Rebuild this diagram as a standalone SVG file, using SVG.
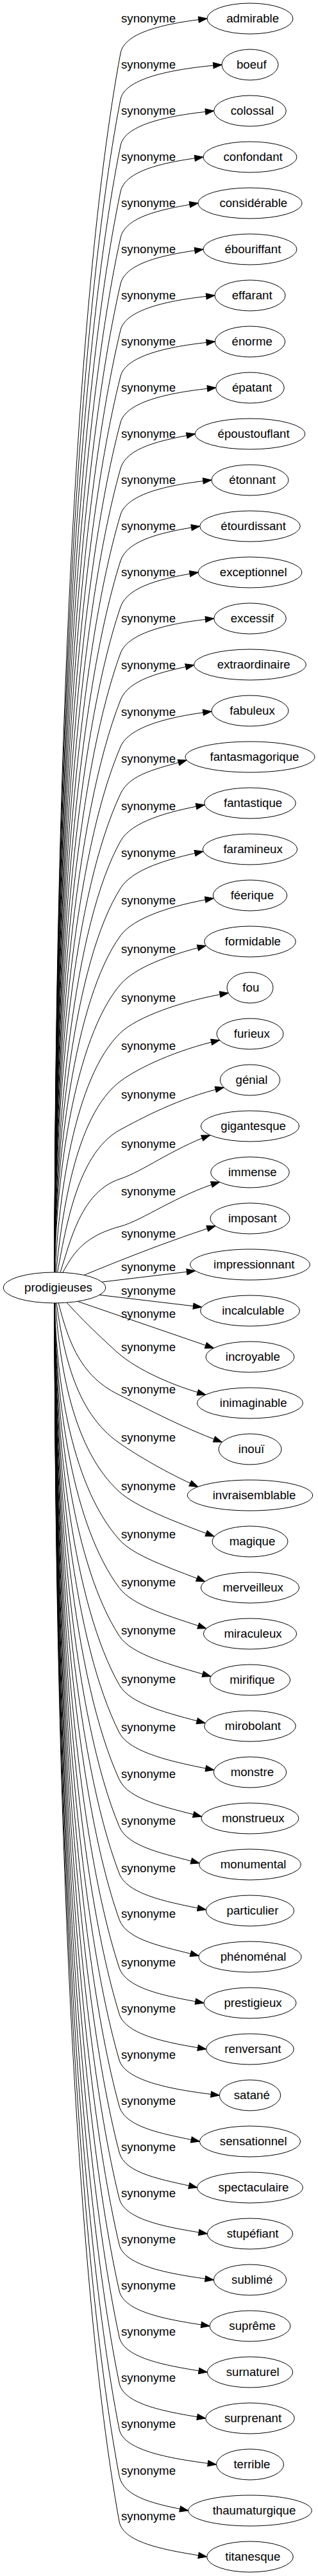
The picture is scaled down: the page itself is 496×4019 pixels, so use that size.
<svg xmlns="http://www.w3.org/2000/svg" width="496" height="4019" viewBox="0 0 496 4019">
<style>
text{font-family:"Liberation Sans",Arial,sans-serif;font-size:18.67px;fill:#000}
.n text{text-anchor:middle}
.n ellipse{fill:#fff;stroke:#000;stroke-width:1}
#edges path{fill:none;stroke:#000;stroke-width:1;marker-end:url(#a)}
</style>
<defs><marker id="a" markerWidth="14" markerHeight="10" refX="13.3" refY="4.67" orient="auto" markerUnits="userSpaceOnUse" overflow="visible"><path d="M0,0 L13.3,4.67 L0,9.33 z" fill="#000" stroke="#000" stroke-width="1"/></marker></defs>
<rect width="496" height="4019" fill="#fff"/>
<g id="edges">
<path d="M85,2009 C85,1238.6 116,468.2 188,83 C194.4,48.6 262.7,36.2 323,29"/>
<path d="M85,2009 C85,1267.4 116,525.8 188,155 C194.7,120.6 275.1,106.8 346,101"/>
<path d="M85,2009 C85,1296.2 116,583.4 188,227 C194.9,192.7 268.4,179.4 333.7,173"/>
<path d="M85,2009 C85,1325 116,641 188,299 C195.2,264.8 259.5,252.8 317,245"/>
<path d="M85,2009 C85,1353.8 116,698.6 188,371 C195.5,336.8 255.3,326 309,317"/>
<path d="M85,2009 C85,1382.6 116,756.2 188,443 C195.8,408.9 259.5,396.8 317,389"/>
<path d="M85,2009 C85,1411.4 116,813.8 188,515 C196.2,481 269.2,467.4 335,461"/>
<path d="M85,2009 C85,1440.2 116,871.4 188,587 C196.6,553.1 269.3,539.4 335.3,533"/>
<path d="M85,2009 C85,1469 116,929 188,659 C197,625.2 270.1,611.3 336.7,605"/>
<path d="M85,2009 C85,1497.8 116,986.6 188,731 C197.5,697.3 252.9,686.8 304.3,677"/>
<path d="M85,2009 C85,1526.6 116,1044.2 188,803 C198,769.5 266.5,755.7 330,749"/>
<path d="M85,2009 C85,1555.4 116,1101.8 188,875 C198.6,841.6 256.7,829.5 311.7,821"/>
<path d="M85,2009 C85,1584.2 116,1159.4 188,947 C199.2,913.9 255.4,901.9 309.2,893"/>
<path d="M85,2009 C85,1613 116,1217 188,1019 C200,986.1 268.4,971.4 333.7,965"/>
<path d="M85,2009 C85,1642.2 116,1275.4 188,1092 C200.8,1059.4 252.3,1048.5 302.7,1037.5"/>
<path d="M85,2009 C85,1671.4 116,1333.8 188,1165 C201.7,1132.8 266.6,1117.8 330,1110"/>
<path d="M85,2009 C85,1700.7 116,1392.4 188,1238.3 C202.8,1206.6 246.5,1199.3 291.2,1186"/>
<path d="M85,2009 C85,1751.9 116,1440.8 188,1312.3 C205.1,1281.8 261.1,1266.5 319.1,1255.7"/>
<path d="M85,2009 C85,1781.3 116,1499.6 188,1385.7 C206.7,1356.1 260.3,1340.4 317,1328.4"/>
<path d="M85,2009 C85,1810.9 116,1558.8 188,1459.7 C208.6,1431.4 268.8,1412.4 333.3,1401.4"/>
<path d="M85,2009 C85,1841.3 116,1619.6 188,1535.7 C210.8,1509.2 263.2,1490.2 321.3,1475.4"/>
<path d="M85,2009 C89.2,1871.5 116,1680 188,1611.3 C213.3,1587.1 281.6,1561.8 356.2,1549.2"/>
<path d="M85,2009 C94.9,1901.7 116,1740.4 188,1686.7 C216.1,1665.8 274.7,1638.3 342.6,1622.9"/>
<path d="M85,2009 C100.5,1931.9 116,1800.8 188,1762.3 C218.9,1745.8 278.6,1713 349.2,1696.7"/>
<path d="M85,2009 C106.3,1962.6 116,1862.2 188,1839 C221.3,1828.3 268.6,1792.6 327.7,1771"/>
<path d="M85,2009 C107.8,1970.7 116,1932.4 188,1913.3 C221.8,1904.3 276,1864.4 342.6,1844.2"/>
<path d="M85,2009 C140,1985 250,1940 336,1912.8"/>
<path d="M85,2009 L304.6,1982.7"/>
<path d="M85,2012 L314.7,2039.3"/>
<path d="M85,2018 L333.4,2103.3"/>
<path d="M85,2009 C110,2042 150,2080 183,2110 C215,2138 270,2162 321,2176"/>
<path d="M85,2009 C102.5,2075.9 116,2142.8 186,2176.3 C217.6,2191.4 278.6,2225.3 346.4,2250"/>
<path d="M85,2009 C96.8,2105.9 116,2202.8 186,2251.3 C214.8,2271.2 258.4,2297 308.8,2319.7"/>
<path d="M85,2009 C91.1,2136.3 116,2263.6 186,2327.3 C211.9,2350.9 271.6,2373.8 334,2397"/>
<path d="M85,2009 C85.5,2166.2 116,2323.4 186,2402 C209.3,2428.1 263.7,2445.3 319.6,2467.5"/>
<path d="M85,2009 C85,2196.3 116,2383.6 186,2477.3 C206.9,2505.3 263.9,2521.2 321.8,2540.7"/>
<path d="M85,2009 C85,2226.3 116,2443.6 186,2552.3 C204.9,2581.7 267.1,2597.6 329,2615.5"/>
<path d="M85,2009 C85,2256.9 116,2504.8 186,2628.7 C203.2,2659.2 261.9,2672.7 320.1,2688.4"/>
<path d="M85,2009 C85,2286.6 116,2564.2 186,2703 C201.8,2734.2 268.5,2749.1 333.9,2761.5"/>
<path d="M85,2009 C85,2315.9 116,2622.8 186,2776.3 C200.5,2808.1 258.6,2819.5 314.5,2834.2"/>
<path d="M85,2009 C85,2345.3 116,2681.6 186,2849.7 C199.5,2882 256.7,2892.3 311.1,2906.9"/>
<path d="M85,2009 C85,2374.6 116,2740.2 186,2923 C198.5,2955.7 261.6,2967.8 321.4,2979.5"/>
<path d="M85,2009 C85,2403.3 116,2797.6 186,2994.7 C197.7,3027.7 256.1,3037.3 310.2,3051.4"/>
<path d="M85,2009 C85,2433.4 116,2857.8 186,3070 C197,3103.2 259.5,3114.6 318,3125"/>
<path d="M85,2009 C85,2462.2 116,2915.4 186,3142 C196.3,3175.4 261.4,3187.1 321.7,3197"/>
<path d="M85,2009 C85,2491 116,2973 186,3214 C195.8,3247.6 272.5,3260.9 342.3,3269"/>
<path d="M85,2009 C85,2519.8 116,3030.6 186,3286 C195.3,3319.8 256.1,3329.5 311.3,3341"/>
<path d="M85,2009 C85,2548.6 116,3088.2 186,3358 C194.8,3391.9 254.3,3400.7 307.7,3413"/>
<path d="M85,2009 C85,2577.4 116,3145.8 186,3430 C194.4,3464 262.3,3475.3 323.3,3485"/>
<path d="M85,2009 C85,2606.2 116,3203.4 186,3502 C194,3536.1 267.6,3548.3 333.3,3557"/>
<path d="M85,2009 C85,2635 116,3261 186,3574 C193.6,3608.2 264.2,3619.7 327,3629"/>
<path d="M85,2009 C85,2663.8 116,3318.6 186,3646 C193.3,3680.2 262.3,3691.3 323.3,3701"/>
<path d="M85,2009 C85,2692.6 116,3376.2 186,3718 C193,3752.3 260.9,3763 320.7,3773"/>
<path d="M85,2009 C85,2721.4 116,3433.8 186,3790 C192.7,3824.3 269.8,3836.6 337.5,3845"/>
<path d="M85,2009 C85,2750.6 116,3492.2 186,3863 C192.5,3897.4 246.1,3907.5 293.7,3917"/>
<path d="M85,2009 C85,2779 116,3549 186,3934 C192.3,3968.4 262,3979.2 322.7,3989"/>
<g id="labels">
<text x="189" y="34.6">synonyme</text>
<text x="189" y="106.6">synonyme</text>
<text x="189" y="178.6">synonyme</text>
<text x="189" y="250.6">synonyme</text>
<text x="189" y="322.6">synonyme</text>
<text x="189" y="394.6">synonyme</text>
<text x="189" y="466.6">synonyme</text>
<text x="189" y="538.6">synonyme</text>
<text x="189" y="610.6">synonyme</text>
<text x="189" y="682.6">synonyme</text>
<text x="189" y="754.6">synonyme</text>
<text x="189" y="826.6">synonyme</text>
<text x="189" y="898.6">synonyme</text>
<text x="189" y="970.6">synonyme</text>
<text x="189" y="1043.6">synonyme</text>
<text x="189" y="1116.6">synonyme</text>
<text x="189" y="1189.9">synonyme</text>
<text x="189" y="1263.9">synonyme</text>
<text x="189" y="1337.3">synonyme</text>
<text x="189" y="1411.3">synonyme</text>
<text x="189" y="1487.3">synonyme</text>
<text x="189" y="1562.9">synonyme</text>
<text x="189" y="1638.3">synonyme</text>
<text x="189" y="1713.9">synonyme</text>
<text x="189" y="1790.6">synonyme</text>
<text x="189" y="1864.9">synonyme</text>
<text x="189" y="1930.6">synonyme</text>
<text x="189" y="1983.3">synonyme</text>
<text x="189" y="2019.9">synonyme</text>
<text x="189" y="2055.6">synonyme</text>
<text x="189" y="2107.9">synonyme</text>
<text x="189" y="2173.9">synonyme</text>
<text x="189" y="2248.9">synonyme</text>
<text x="189" y="2324.9">synonyme</text>
<text x="189" y="2399.6">synonyme</text>
<text x="189" y="2474.9">synonyme</text>
<text x="189" y="2549.9">synonyme</text>
<text x="189" y="2626.3">synonyme</text>
<text x="189" y="2700.6">synonyme</text>
<text x="189" y="2773.9">synonyme</text>
<text x="189" y="2847.3">synonyme</text>
<text x="189" y="2920.6">synonyme</text>
<text x="189" y="2992.3">synonyme</text>
<text x="189" y="3067.6">synonyme</text>
<text x="189" y="3139.6">synonyme</text>
<text x="189" y="3211.6">synonyme</text>
<text x="189" y="3283.6">synonyme</text>
<text x="189" y="3355.6">synonyme</text>
<text x="189" y="3427.6">synonyme</text>
<text x="189" y="3499.6">synonyme</text>
<text x="189" y="3571.6">synonyme</text>
<text x="189" y="3643.6">synonyme</text>
<text x="189" y="3715.6">synonyme</text>
<text x="189" y="3787.6">synonyme</text>
<text x="189" y="3860.6">synonyme</text>
<text x="189" y="3931.6">synonyme</text>
</g>
</g>
<g id="n-prodigieuses" class="n"><ellipse cx="85" cy="2009" rx="79.7" ry="24"/><text x="91" y="2014.6">prodigieuses</text></g>
<g id="n0" class="n"><ellipse cx="390" cy="29" rx="67" ry="24"/><text x="394.1" y="34.6">admirable</text></g>
<g id="n1" class="n"><ellipse cx="390" cy="101" rx="44" ry="24"/><text x="392.3" y="106.6">boeuf</text></g>
<g id="n2" class="n"><ellipse cx="390" cy="173" rx="56.3" ry="24"/><text x="393.4" y="178.6">colossal</text></g>
<g id="n3" class="n"><ellipse cx="390" cy="245" rx="73" ry="24"/><text x="394.6" y="250.6">confondant</text></g>
<g id="n4" class="n"><ellipse cx="390" cy="317" rx="81" ry="24"/><text x="395.3" y="322.6">considérable</text></g>
<g id="n5" class="n"><ellipse cx="390" cy="389" rx="73" ry="24"/><text x="394.4" y="394.6">ébouriffant</text></g>
<g id="n6" class="n"><ellipse cx="390" cy="461" rx="55" ry="24"/><text x="393.2" y="466.6">effarant</text></g>
<g id="n7" class="n"><ellipse cx="390" cy="533" rx="54.7" ry="24"/><text x="393.2" y="538.6">énorme</text></g>
<g id="n8" class="n"><ellipse cx="390" cy="605" rx="53.3" ry="24"/><text x="393.1" y="610.6">épatant</text></g>
<g id="n9" class="n"><ellipse cx="390" cy="677" rx="85.7" ry="24"/><text x="395.6" y="682.6">époustouflant</text></g>
<g id="n10" class="n"><ellipse cx="390" cy="749" rx="60" ry="24"/><text x="393.6" y="754.6">étonnant</text></g>
<g id="n11" class="n"><ellipse cx="390" cy="821" rx="78.3" ry="24"/><text x="395.1" y="826.6">étourdissant</text></g>
<g id="n12" class="n"><ellipse cx="390" cy="893" rx="80.8" ry="24"/><text x="395.2" y="898.6">exceptionnel</text></g>
<g id="n13" class="n"><ellipse cx="390" cy="965" rx="56.3" ry="24"/><text x="393.4" y="970.6">excessif</text></g>
<g id="n14" class="n"><ellipse cx="390" cy="1037" rx="87.3" ry="24"/><text x="395.7" y="1042.6">extraordinaire</text></g>
<g id="n15" class="n"><ellipse cx="390" cy="1109" rx="60" ry="24"/><text x="393.5" y="1114.6">fabuleux</text></g>
<g id="n16" class="n"><ellipse cx="390" cy="1181" rx="101" ry="24"/><text x="397" y="1186.6">fantasmagorique</text></g>
<g id="n17" class="n"><ellipse cx="390" cy="1253" rx="71.3" ry="24"/><text x="394.6" y="1258.6">fantastique</text></g>
<g id="n18" class="n"><ellipse cx="390" cy="1325" rx="73.7" ry="24"/><text x="394.6" y="1330.6">faramineux</text></g>
<g id="n19" class="n"><ellipse cx="390" cy="1397" rx="57.7" ry="24"/><text x="393.4" y="1402.6">féerique</text></g>
<g id="n20" class="n"><ellipse cx="390" cy="1469" rx="71.3" ry="24"/><text x="394.4" y="1474.6">formidable</text></g>
<g id="n21" class="n"><ellipse cx="390" cy="1541" rx="36" ry="24"/><text x="391.3" y="1546.6">fou</text></g>
<g id="n22" class="n"><ellipse cx="390" cy="1613" rx="52" ry="24"/><text x="392.8" y="1618.6">furieux</text></g>
<g id="n23" class="n"><ellipse cx="390" cy="1685" rx="46.7" ry="24"/><text x="392.5" y="1690.6">génial</text></g>
<g id="n24" class="n"><ellipse cx="390" cy="1757" rx="76.7" ry="24"/><text x="395.1" y="1762.6">gigantesque</text></g>
<g id="n25" class="n"><ellipse cx="390" cy="1829" rx="61.3" ry="24"/><text x="393.8" y="1834.6">immense</text></g>
<g id="n26" class="n"><ellipse cx="390" cy="1901" rx="62" ry="24"/><text x="393.8" y="1906.6">imposant</text></g>
<g id="n27" class="n"><ellipse cx="390" cy="1973" rx="93.3" ry="24"/><text x="396.3" y="1978.6">impressionnant</text></g>
<g id="n28" class="n"><ellipse cx="390" cy="2045" rx="77.5" ry="24"/><text x="394.9" y="2050.6">incalculable</text></g>
<g id="n29" class="n"><ellipse cx="390" cy="2117" rx="69" ry="24"/><text x="394.3" y="2122.6">incroyable</text></g>
<g id="n30" class="n"><ellipse cx="390" cy="2189" rx="82.3" ry="24"/><text x="395.2" y="2194.6">inimaginable</text></g>
<g id="n31" class="n"><ellipse cx="390" cy="2261" rx="49" ry="24"/><text x="392" y="2266.6">inouï</text></g>
<g id="n32" class="n"><ellipse cx="390" cy="2333" rx="97.7" ry="24"/><text x="396.5" y="2338.6">invraisemblable</text></g>
<g id="n33" class="n"><ellipse cx="390" cy="2405" rx="59" ry="24"/><text x="393.6" y="2410.6">magique</text></g>
<g id="n34" class="n"><ellipse cx="390" cy="2477" rx="76.7" ry="24"/><text x="394.7" y="2482.6">merveilleux</text></g>
<g id="n35" class="n"><ellipse cx="390" cy="2549" rx="72.7" ry="24"/><text x="394.5" y="2554.6">miraculeux</text></g>
<g id="n36" class="n"><ellipse cx="390" cy="2621" rx="62.7" ry="24"/><text x="393.5" y="2626.6">mirifique</text></g>
<g id="n37" class="n"><ellipse cx="390" cy="2693" rx="71.3" ry="24"/><text x="394.4" y="2698.6">mirobolant</text></g>
<g id="n38" class="n"><ellipse cx="390" cy="2765" rx="56.7" ry="24"/><text x="393.4" y="2770.6">monstre</text></g>
<g id="n39" class="n"><ellipse cx="390" cy="2837" rx="76" ry="24"/><text x="394.9" y="2842.6">monstrueux</text></g>
<g id="n40" class="n"><ellipse cx="390" cy="2909" rx="79.2" ry="24"/><text x="395.1" y="2914.6">monumental</text></g>
<g id="n41" class="n"><ellipse cx="390" cy="2981" rx="68.7" ry="24"/><text x="394" y="2986.6">particulier</text></g>
<g id="n42" class="n"><ellipse cx="390" cy="3053" rx="80" ry="24"/><text x="395.1" y="3058.6">phénoménal</text></g>
<g id="n43" class="n"><ellipse cx="390" cy="3125" rx="72" ry="24"/><text x="394.5" y="3130.6">prestigieux</text></g>
<g id="n44" class="n"><ellipse cx="390" cy="3197" rx="68.3" ry="24"/><text x="394.4" y="3202.6">renversant</text></g>
<g id="n45" class="n"><ellipse cx="390" cy="3269" rx="47.7" ry="24"/><text x="392.8" y="3274.6">satané</text></g>
<g id="n46" class="n"><ellipse cx="390" cy="3341" rx="78.7" ry="24"/><text x="395.2" y="3346.6">sensationnel</text></g>
<g id="n47" class="n"><ellipse cx="390" cy="3413" rx="82.3" ry="24"/><text x="395.5" y="3418.6">spectaculaire</text></g>
<g id="n48" class="n"><ellipse cx="390" cy="3485" rx="66.7" ry="24"/><text x="394.1" y="3490.6">stupéfiant</text></g>
<g id="n49" class="n"><ellipse cx="390" cy="3557" rx="56.7" ry="24"/><text x="393.2" y="3562.6">sublimé</text></g>
<g id="n50" class="n"><ellipse cx="390" cy="3629" rx="63" ry="24"/><text x="393.6" y="3634.6">suprême</text></g>
<g id="n51" class="n"><ellipse cx="390" cy="3701" rx="66.7" ry="24"/><text x="394.2" y="3706.6">surnaturel</text></g>
<g id="n52" class="n"><ellipse cx="390" cy="3773" rx="69.3" ry="24"/><text x="394.5" y="3778.6">surprenant</text></g>
<g id="n53" class="n"><ellipse cx="390" cy="3845" rx="52.5" ry="24"/><text x="392.9" y="3850.6">terrible</text></g>
<g id="n54" class="n"><ellipse cx="390" cy="3917" rx="96.3" ry="24"/><text x="396.5" y="3922.6">thaumaturgique</text></g>
<g id="n55" class="n"><ellipse cx="390" cy="3989" rx="67.3" ry="24"/><text x="394.3" y="3994.6">titanesque</text></g>
</svg>
